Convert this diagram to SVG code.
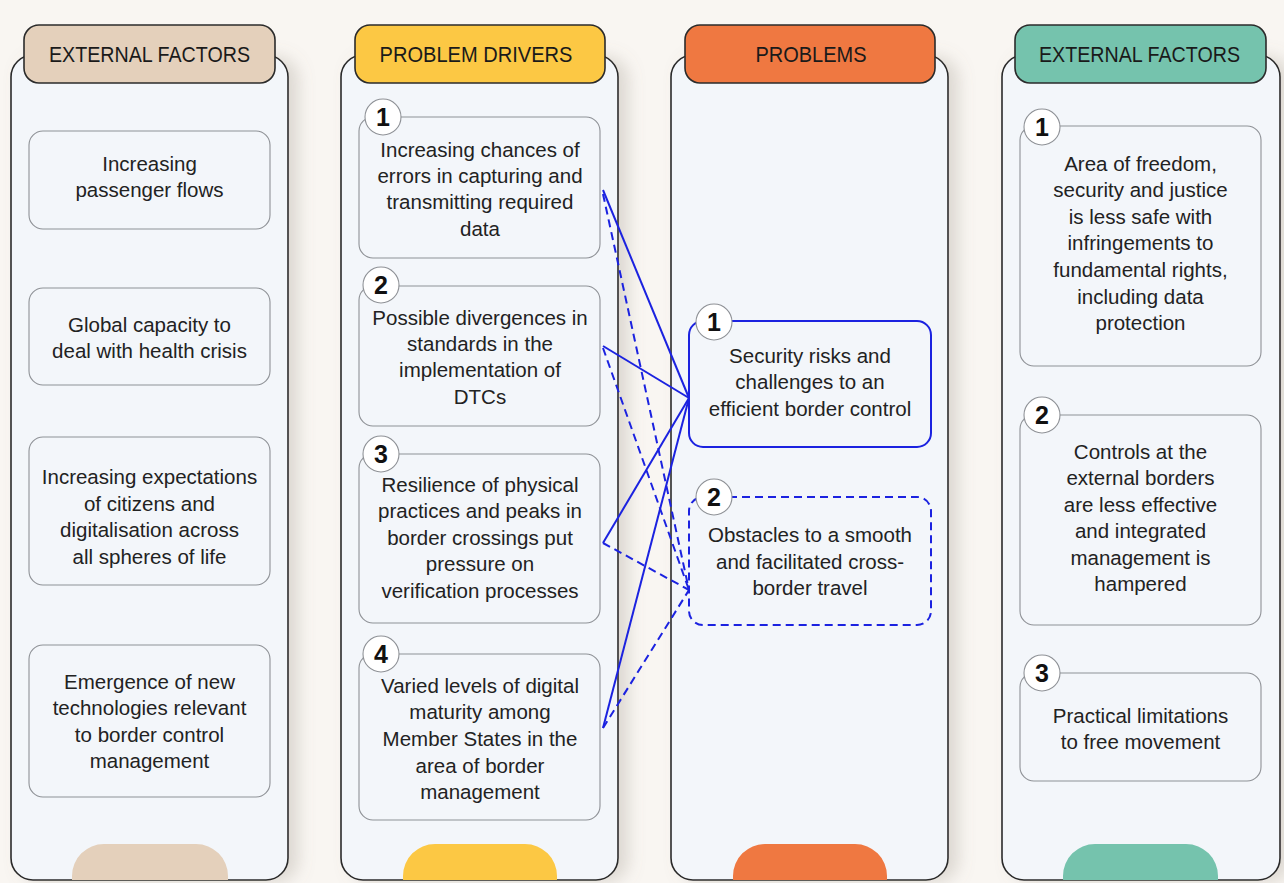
<svg xmlns="http://www.w3.org/2000/svg" width="1284" height="883" viewBox="0 0 1284 883">
<defs>
<filter id="sh" x="-10%" y="-5%" width="130%" height="115%">
<feDropShadow dx="10" dy="2" stdDeviation="8" flood-color="#8a7f74" flood-opacity="0.25"/>
</filter>
</defs>
<style>
.col{fill:#f3f6fa;stroke:#2b2b2b;stroke-width:1.6}
.hdr{stroke:#2b2b2b;stroke-width:1.6}
.ht{font-family:"Liberation Sans",Arial,sans-serif;font-size:22px;fill:#1a1a1a;text-anchor:middle}
.box{fill:#f3f6fa;stroke:#8e9196;stroke-width:1.1}
.t{font-family:"Liberation Sans",Arial,sans-serif;font-size:20.5px;fill:#222;text-anchor:middle}
.bd{fill:#ffffff;stroke:#8e9196;stroke-width:1.1}
.bn{font-family:"Liberation Sans",Arial,sans-serif;font-size:25px;font-weight:bold;fill:#111;text-anchor:middle}
.sl{stroke:#1b22e0;stroke-width:2;fill:none}
.dl{stroke:#1b22e0;stroke-width:2;fill:none;stroke-dasharray:8 5}
</style>
<rect x="0" y="0" width="1284" height="883" fill="#f9f6f2"/>

<!-- Column 1 -->
<g id="col-external-left">
<rect class="col" x="11" y="55" width="277" height="825" rx="22" filter="url(#sh)"/>
<path d="M72 883 V876 a32 32 0 0 1 32 -32 H196 a32 32 0 0 1 32 32 V880 H72Z" fill="#e4d0bb"/>
<rect class="hdr" x="24" y="25" width="251" height="58" rx="15" fill="#e4d0bb"/>
<text class="ht" x="149.5" y="62" textLength="201" lengthAdjust="spacingAndGlyphs">EXTERNAL FACTORS</text>
</g>
<g id="ef1"><rect class="box" x="29" y="131" width="241" height="98" rx="14"/>
<text class="t" x="149.5" y="171">Increasing</text><text class="t" x="149.5" y="197">passenger flows</text></g>
<g id="ef2"><rect class="box" x="29" y="288" width="241" height="97" rx="14"/>
<text class="t" x="149.5" y="332">Global capacity to</text><text class="t" x="149.5" y="358">deal with health crisis</text></g>
<g id="ef3"><rect class="box" x="29" y="437" width="241" height="148" rx="14"/>
<text class="t" x="149.5" y="484">Increasing expectations</text><text class="t" x="149.5" y="511">of citizens and</text><text class="t" x="149.5" y="537">digitalisation across</text><text class="t" x="149.5" y="564">all spheres of life</text></g>
<g id="ef4"><rect class="box" x="29" y="645" width="241" height="152" rx="14"/>
<text class="t" x="149.5" y="689">Emergence of new</text><text class="t" x="149.5" y="715">technologies relevant</text><text class="t" x="149.5" y="742">to border control</text><text class="t" x="149.5" y="768">management</text></g>

<!-- Column 2 -->
<g id="col-drivers">
<rect class="col" x="341" y="55" width="277" height="825" rx="22" filter="url(#sh)"/>
<path d="M403 883 V876 a32 32 0 0 1 32 -32 H525 a32 32 0 0 1 32 32 V880 H403Z" fill="#fcc844"/>
<rect class="hdr" x="355" y="25" width="250" height="58" rx="15" fill="#fcc844"/>
<text class="ht" x="476" y="62" textLength="193" lengthAdjust="spacingAndGlyphs">PROBLEM DRIVERS</text>
</g>
<g id="pd1"><rect class="box" x="359" y="117" width="241" height="141" rx="14"/>
<circle class="bd" cx="383" cy="117" r="18"/><text class="bn" x="383" y="126">1</text>
<text class="t" x="480" y="157">Increasing chances of</text><text class="t" x="480" y="183">errors in capturing and</text><text class="t" x="480" y="209">transmitting required</text><text class="t" x="480" y="236">data</text></g>
<g id="pd2"><rect class="box" x="359" y="286" width="241" height="140" rx="14"/>
<circle class="bd" cx="381" cy="285" r="18"/><text class="bn" x="381" y="294">2</text>
<text class="t" x="480" y="325">Possible divergences in</text><text class="t" x="480" y="351">standards in the</text><text class="t" x="480" y="377">implementation of</text><text class="t" x="480" y="404">DTCs</text></g>
<g id="pd3"><rect class="box" x="359" y="454" width="241" height="169" rx="14"/>
<circle class="bd" cx="381" cy="454" r="18"/><text class="bn" x="381" y="463">3</text>
<text class="t" x="480" y="492">Resilience of physical</text><text class="t" x="480" y="518">practices and peaks in</text><text class="t" x="480" y="545">border crossings put</text><text class="t" x="480" y="571">pressure on</text><text class="t" x="480" y="598">verification processes</text></g>
<g id="pd4"><rect class="box" x="359" y="654" width="241" height="166" rx="14"/>
<circle class="bd" cx="381" cy="654" r="18"/><text class="bn" x="381" y="663">4</text>
<text class="t" x="480" y="693">Varied levels of digital</text><text class="t" x="480" y="719">maturity among</text><text class="t" x="480" y="746">Member States in the</text><text class="t" x="480" y="773">area of border</text><text class="t" x="480" y="799">management</text></g>

<!-- Column 3 -->
<g id="col-problems">
<rect class="col" x="671" y="55" width="277" height="825" rx="22" filter="url(#sh)"/>
<path d="M733 883 V876 a32 32 0 0 1 32 -32 H855 a32 32 0 0 1 32 32 V880 H733Z" fill="#ef7841"/>
<rect class="hdr" x="685" y="25" width="250" height="58" rx="15" fill="#ef7841"/>
<text class="ht" x="811" y="62" textLength="111" lengthAdjust="spacingAndGlyphs">PROBLEMS</text>
</g>

<!-- Column 4 -->
<g id="col-external-right">
<rect class="col" x="1002" y="55" width="278" height="825" rx="22" filter="url(#sh)"/>
<path d="M1063 883 V876 a32 32 0 0 1 32 -32 H1186 a32 32 0 0 1 32 32 V880 H1063Z" fill="#75c3ad"/>
<rect class="hdr" x="1015" y="25" width="251" height="58" rx="15" fill="#75c3ad"/>
<text class="ht" x="1139.5" y="62" textLength="201" lengthAdjust="spacingAndGlyphs">EXTERNAL FACTORS</text>
</g>
<g id="ex1"><rect class="box" x="1020" y="126" width="241" height="240" rx="14"/>
<circle class="bd" cx="1042" cy="127" r="18"/><text class="bn" x="1042" y="136">1</text>
<text class="t" x="1140.5" y="171">Area of freedom,</text><text class="t" x="1140.5" y="197">security and justice</text><text class="t" x="1140.5" y="224">is less safe with</text><text class="t" x="1140.5" y="250">infringements to</text><text class="t" x="1140.5" y="277">fundamental rights,</text><text class="t" x="1140.5" y="304">including data</text><text class="t" x="1140.5" y="330">protection</text></g>
<g id="ex2"><rect class="box" x="1020" y="415" width="241" height="210" rx="14"/>
<circle class="bd" cx="1042" cy="415" r="18"/><text class="bn" x="1042" y="424">2</text>
<text class="t" x="1140.5" y="459">Controls at the</text><text class="t" x="1140.5" y="485">external borders</text><text class="t" x="1140.5" y="512">are less effective</text><text class="t" x="1140.5" y="538">and integrated</text><text class="t" x="1140.5" y="565">management is</text><text class="t" x="1140.5" y="591">hampered</text></g>
<g id="ex3"><rect class="box" x="1020" y="673" width="241" height="108" rx="14"/>
<circle class="bd" cx="1042" cy="673" r="18"/><text class="bn" x="1042" y="682">3</text>
<text class="t" x="1140.5" y="723">Practical limitations</text><text class="t" x="1140.5" y="749">to free movement</text></g>

<!-- Connectors -->
<g id="connectors">
<path class="sl" d="M603 190 L689 398"/>
<path class="sl" d="M603 346 L689 398"/>
<path class="sl" d="M603 543 L689 398"/>
<path class="sl" d="M603 728 L689 398"/>
<path class="dl" d="M603 194 L689 590"/>
<path class="dl" d="M603 348 L689 590"/>
<path class="dl" d="M603 543 L689 590"/>
<path class="dl" d="M603 728 L689 590"/>
</g>

<!-- Problems boxes (on top of connectors) -->
<g id="p1"><rect x="689" y="321" width="242" height="126" rx="14" fill="#f3f6fa" stroke="#1b22e0" stroke-width="2"/>
<circle class="bd" cx="714" cy="322" r="18"/><text class="bn" x="714" y="331">1</text>
<text class="t" x="810" y="363">Security risks and</text><text class="t" x="810" y="389">challenges to an</text><text class="t" x="810" y="416">efficient border control</text></g>
<g id="p2"><rect x="689" y="497" width="242" height="128" rx="14" fill="#f3f6fa" stroke="#1b22e0" stroke-width="2" stroke-dasharray="8 5"/>
<circle class="bd" cx="714" cy="497" r="18"/><text class="bn" x="714" y="506">2</text>
<text class="t" x="810" y="542">Obstacles to a smooth</text><text class="t" x="810" y="569">and facilitated cross-</text><text class="t" x="810" y="595">border travel</text></g>
</svg>
